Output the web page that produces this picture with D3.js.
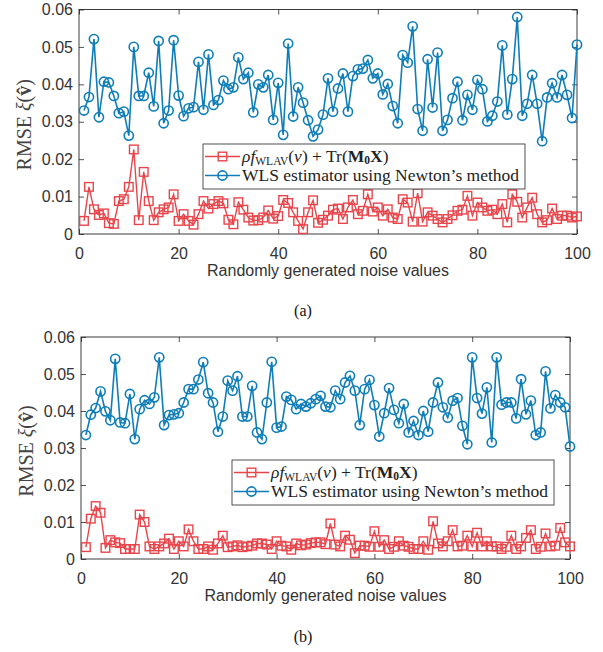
<!DOCTYPE html>
<html>
<head>
<meta charset="utf-8">
<script src="https://cdn.jsdelivr.net/npm/d3@7"></script>
<style>
  body { margin: 0; background: #fff; }
  svg { display: block; }
</style>
</head>
<body>
<div id="chart"></div>
<script>
// values, one per noise sample 1..100
var redA = [0.0035, 0.0126, 0.0066, 0.0051, 0.0055, 0.0029, 0.0027, 0.0088, 0.0093, 0.0126,
  0.0226, 0.0037, 0.0166, 0.0088, 0.0037, 0.0058, 0.0066, 0.0071, 0.0106, 0.0035,
  0.0053, 0.0035, 0.0025, 0.0053, 0.0088, 0.0068, 0.0080, 0.0088, 0.0082, 0.0038,
  0.0026, 0.0085, 0.0065, 0.0044, 0.0036, 0.0037, 0.0044, 0.0063, 0.0041, 0.0048,
  0.0091, 0.0083, 0.0058, 0.0035, 0.0013, 0.0058, 0.0090, 0.0030, 0.0038, 0.0049,
  0.0065, 0.0068, 0.0040, 0.0071, 0.0091, 0.0053, 0.0062, 0.0106, 0.0060, 0.0071,
  0.0049, 0.0066, 0.0044, 0.0040, 0.0093, 0.0084, 0.0033, 0.0109, 0.0033, 0.0058,
  0.0049, 0.0040, 0.0031, 0.0040, 0.0050, 0.0062, 0.0065, 0.0102, 0.0049, 0.0084,
  0.0071, 0.0062, 0.0065, 0.0053, 0.0080, 0.0031, 0.0106, 0.0086, 0.0044, 0.0071,
  0.0097, 0.0053, 0.0031, 0.0037, 0.0068, 0.0040, 0.0049, 0.0049, 0.0044, 0.0047];

var blueA = [0.0330, 0.0366, 0.0521, 0.0312, 0.0407, 0.0405, 0.0369, 0.0323, 0.0327, 0.0263,
  0.0500, 0.0369, 0.0369, 0.0431, 0.0341, 0.0516, 0.0296, 0.0330, 0.0518, 0.0370,
  0.0315, 0.0336, 0.0339, 0.0460, 0.0332, 0.0480, 0.0345, 0.0358, 0.0410, 0.0387,
  0.0392, 0.0472, 0.0414, 0.0431, 0.0325, 0.0400, 0.0392, 0.0425, 0.0305, 0.0404,
  0.0265, 0.0509, 0.0314, 0.0392, 0.0351, 0.0304, 0.0261, 0.0279, 0.0319, 0.0416,
  0.0327, 0.0389, 0.0429, 0.0327, 0.0422, 0.0440, 0.0442, 0.0465, 0.0416, 0.0429,
  0.0373, 0.0401, 0.0342, 0.0296, 0.0478, 0.0458, 0.0555, 0.0334, 0.0276, 0.0467,
  0.0338, 0.0485, 0.0276, 0.0305, 0.0363, 0.0407, 0.0304, 0.0372, 0.0332, 0.0412,
  0.0387, 0.0301, 0.0316, 0.0354, 0.0504, 0.0319, 0.0414, 0.0580, 0.0316, 0.0348,
  0.0425, 0.0348, 0.0248, 0.0365, 0.0403, 0.0365, 0.0425, 0.0372, 0.0310, 0.0506];

var redB = [0.0032, 0.0109, 0.0143, 0.0125, 0.0030, 0.0051, 0.0045, 0.0043, 0.0027, 0.0027,
  0.0027, 0.0120, 0.0100, 0.0034, 0.0027, 0.0034, 0.0042, 0.0055, 0.0027, 0.0048,
  0.0034, 0.0080, 0.0048, 0.0027, 0.0027, 0.0034, 0.0025, 0.0042, 0.0063, 0.0032,
  0.0034, 0.0037, 0.0032, 0.0034, 0.0036, 0.0042, 0.0042, 0.0039, 0.0027, 0.0048,
  0.0036, 0.0034, 0.0025, 0.0042, 0.0037, 0.0039, 0.0043, 0.0045, 0.0045, 0.0040,
  0.0096, 0.0039, 0.0034, 0.0063, 0.0052, 0.0016, 0.0036, 0.0036, 0.0033, 0.0075,
  0.0033, 0.0051, 0.0027, 0.0033, 0.0048, 0.0036, 0.0033, 0.0027, 0.0027, 0.0048,
  0.0025, 0.0102, 0.0042, 0.0034, 0.0048, 0.0078, 0.0034, 0.0036, 0.0063, 0.0034,
  0.0071, 0.0034, 0.0048, 0.0034, 0.0034, 0.0027, 0.0033, 0.0063, 0.0027, 0.0034,
  0.0057, 0.0078, 0.0027, 0.0033, 0.0069, 0.0034, 0.0036, 0.0084, 0.0045, 0.0034];

var blueB = [0.0335, 0.0390, 0.0408, 0.0453, 0.0399, 0.0375, 0.0541, 0.0369, 0.0367, 0.0446,
  0.0324, 0.0405, 0.0429, 0.0419, 0.0437, 0.0545, 0.0362, 0.0389, 0.0391, 0.0394,
  0.0423, 0.0459, 0.0459, 0.0485, 0.0532, 0.0448, 0.0423, 0.0344, 0.0385, 0.0482,
  0.0455, 0.0494, 0.0385, 0.0385, 0.0468, 0.0342, 0.0324, 0.0423, 0.0533, 0.0355,
  0.0358, 0.0439, 0.0430, 0.0405, 0.0419, 0.0412, 0.0421, 0.0432, 0.0441, 0.0412,
  0.0410, 0.0455, 0.0432, 0.0477, 0.0495, 0.0455, 0.0362, 0.0459, 0.0484, 0.0416,
  0.0331, 0.0394, 0.0462, 0.0403, 0.0367, 0.0419, 0.0342, 0.0373, 0.0335, 0.0400,
  0.0344, 0.0423, 0.0477, 0.0410, 0.0382, 0.0428, 0.0435, 0.0360, 0.0310, 0.0545,
  0.0435, 0.0393, 0.0464, 0.0315, 0.0545, 0.0417, 0.0423, 0.0423, 0.0380, 0.0486,
  0.0391, 0.0428, 0.0335, 0.0342, 0.0507, 0.0407, 0.0443, 0.0423, 0.0410, 0.0304];

var xTicks = [0, 20, 40, 60, 80, 100];
var yTicks = [0, 0.01, 0.02, 0.03, 0.04, 0.05, 0.06];
var xTitle = "Randomly generated noise values";
var captions = ["(a)", "(b)"];

var svgWidth = 603;
var svgHeight = 652;

var redColor = "#e8454b";
var blueColor = "#0f7db8";
var axisColor = "#262626";
var serif = "'Liberation Serif', 'DejaVu Serif', serif";
var sans = "'Liberation Sans', Arial, sans-serif";

var svg = d3.select("#chart")
  .append("svg")
  .attr("width", svgWidth)
  .attr("height", svgHeight);

// one MATLAB style panel
function drawPanel(p) {
  var g = svg.append("g");

  var x = d3.scaleLinear().domain([0, 100]).range([p.left, p.right]);
  var y = d3.scaleLinear().domain([0, 0.06]).range([p.bottom, p.top]);

  var bottomAxis = d3.axisBottom(x).tickValues(xTicks).tickSize(-5).tickSizeOuter(0).tickPadding(13.6);
  var leftAxis = d3.axisLeft(y).tickValues(yTicks).tickSize(-5).tickSizeOuter(0).tickPadding(6)
    .tickFormat(d => d === 0 ? "0" : d.toFixed(2));
  var topAxis = d3.axisTop(x).tickValues(xTicks).tickSize(-5).tickSizeOuter(0).tickFormat("");
  var rightAxis = d3.axisRight(y).tickValues(yTicks).tickSize(-5).tickSizeOuter(0).tickFormat("");

  var axes = [
    g.append("g").attr("transform", `translate(0, ${p.bottom})`).call(bottomAxis),
    g.append("g").attr("transform", `translate(${p.left}, 0)`).call(leftAxis),
    g.append("g").attr("transform", `translate(0, ${p.top})`).call(topAxis),
    g.append("g").attr("transform", `translate(${p.right}, 0)`).call(rightAxis)
  ];
  axes.forEach(function(a) {
    a.select(".domain").remove();
    a.selectAll("line").attr("stroke", axisColor).attr("stroke-width", 0.8);
    a.selectAll("text")
      .attr("fill", "#333")
      .style("font-family", sans)
      .style("font-size", "16px");
  });

  // box
  g.append("rect")
    .attr("x", p.left)
    .attr("y", p.top)
    .attr("width", p.right - p.left)
    .attr("height", p.bottom - p.top)
    .attr("fill", "none")
    .attr("stroke", axisColor)
    .attr("stroke-width", 0.9);

  var line = d3.line()
    .x((d, i) => x(i + 1))
    .y(d => y(d));

  // red series with squares
  g.append("path")
    .datum(p.red)
    .attr("d", line)
    .attr("fill", "none")
    .attr("stroke", redColor)
    .attr("stroke-width", 1.4);

  g.selectAll(".sq")
    .data(p.red)
    .enter()
    .append("rect")
    .attr("x", (d, i) => x(i + 1) - 4.3)
    .attr("y", d => y(d) - 4.3)
    .attr("width", 8.6)
    .attr("height", 8.6)
    .attr("fill", "none")
    .attr("stroke", redColor)
    .attr("stroke-width", 1.4);

  // blue series with circles
  g.append("path")
    .datum(p.blue)
    .attr("d", line)
    .attr("fill", "none")
    .attr("stroke", blueColor)
    .attr("stroke-width", 1.6);

  g.selectAll(".ci")
    .data(p.blue)
    .enter()
    .append("circle")
    .attr("cx", (d, i) => x(i + 1))
    .attr("cy", d => y(d))
    .attr("r", 4.6)
    .attr("fill", "none")
    .attr("stroke", blueColor)
    .attr("stroke-width", 1.6);

  // y label
  var yl = g.append("text")
    .attr("transform", `translate(${p.ylabX}, ${(p.top + p.bottom) / 2 + 3}) rotate(-90)`)
    .attr("text-anchor", "middle")
    .attr("fill", "#444")
    .style("font-family", serif)
    .style("font-size", "20px");
  yl.append("tspan").text("RMSE ");
  yl.append("tspan").style("font-style", "italic").text("ξ");
  yl.append("tspan").text("(");
  yl.append("tspan").style("font-weight", "bold").text("v\u0302");
  yl.append("tspan").text(")");

  // x label
  g.append("text")
    .attr("x", (p.left + p.right) / 2)
    .attr("y", p.bottom + 42)
    .attr("text-anchor", "middle")
    .attr("fill", "#333")
    .style("font-family", sans)
    .style("font-size", "16px")
    .text(xTitle);

  // caption
  g.append("text")
    .attr("x", 303)
    .attr("y", p.captionY)
    .attr("text-anchor", "middle")
    .attr("fill", "#111")
    .style("font-family", serif)
    .style("font-size", "16px")
    .text(p.caption);

  // legend
  var lg = g.append("g").attr("transform", `translate(${p.legX}, ${p.legY})`);
  lg.append("rect")
    .attr("width", 322)
    .attr("height", 45)
    .attr("fill", "#fff")
    .attr("stroke", axisColor)
    .attr("stroke-width", 0.8);

  var row1 = 12.5, row2 = 31.5;
  lg.append("line").attr("x1", 2).attr("x2", 37).attr("y1", row1).attr("y2", row1)
    .attr("stroke", redColor).attr("stroke-width", 1.4);
  lg.append("rect").attr("x", 19.5 - 4.3).attr("y", row1 - 4.3).attr("width", 8.6).attr("height", 8.6)
    .attr("fill", "none").attr("stroke", redColor).attr("stroke-width", 1.4);
  lg.append("line").attr("x1", 2).attr("x2", 37).attr("y1", row2).attr("y2", row2)
    .attr("stroke", blueColor).attr("stroke-width", 1.6);
  lg.append("circle").attr("cx", 19.5).attr("cy", row2).attr("r", 4.6)
    .attr("fill", "none").attr("stroke", blueColor).attr("stroke-width", 1.6);

  var t1 = lg.append("text")
    .attr("x", 39)
    .attr("y", row1 + 5)
    .attr("fill", "#222")
    .style("font-family", serif)
    .style("font-size", "17.5px");
  t1.append("tspan").style("font-style", "italic").text("ρf");
  t1.append("tspan").attr("dy", 3).style("font-size", "11.5px").text("WLAV");
  t1.append("tspan").attr("dy", -3).text("(");
  t1.append("tspan").style("font-style", "italic").text("ν");
  t1.append("tspan").text(") + Tr(");
  t1.append("tspan").style("font-weight", "bold").text("M");
  t1.append("tspan").attr("dy", 2).style("font-weight", "bold").style("font-size", "11.5px").text("0");
  t1.append("tspan").attr("dy", -2).style("font-weight", "bold").text("X");
  t1.append("tspan").text(")");

  lg.append("text")
    .attr("x", 39)
    .attr("y", row2 + 5.5)
    .attr("fill", "#222")
    .style("font-family", serif)
    .style("font-size", "17.5px")
    .text("WLS estimator using Newton\u2019s method");
}

drawPanel({
  left: 79, right: 577, top: 9.5, bottom: 234,
  red: redA, blue: blueA,
  ylabX: 31, captionY: 316, caption: captions[0],
  legX: 203, legY: 144
});

drawPanel({
  left: 81, right: 570, top: 337, bottom: 559,
  red: redB, blue: blueB,
  ylabX: 33, captionY: 642, caption: captions[1],
  legX: 232, legY: 460
});
</script>
</body>
</html>
